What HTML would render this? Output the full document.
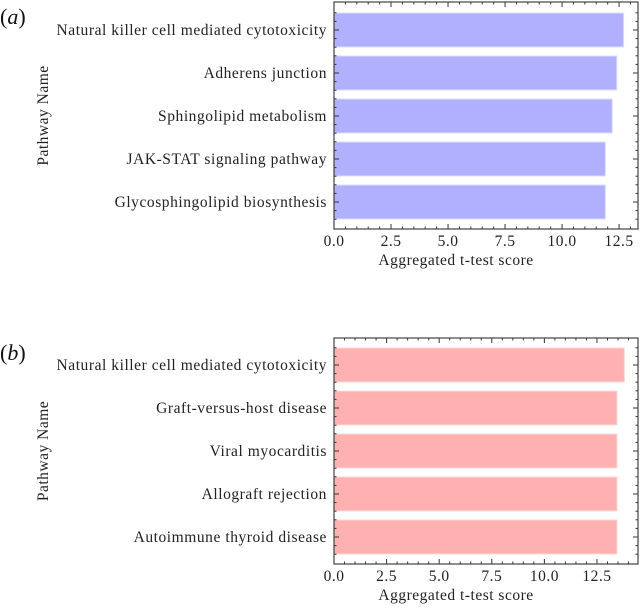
<!DOCTYPE html>
<html><head><meta charset="utf-8"><style>
body{margin:0;background:#fff;width:640px;height:605px;overflow:hidden}
svg, svg text{font-family:'Liberation Serif','Times New Roman',Times,'DejaVu Serif',serif}
</style></head><body>
<svg id="s" width="640" height="605" xmlns="http://www.w3.org/2000/svg"></svg>
<script>
const catsA=["Natural killer cell mediated cytotoxicity","Adherens junction","Sphingolipid metabolism","JAK-STAT signaling pathway","Glycosphingolipid biosynthesis"];
const valsA=[12.7,12.4,12.2,11.9,11.9];
const catsB=["Natural killer cell mediated cytotoxicity","Graft-versus-host disease","Viral myocarditis","Allograft rejection","Autoimmune thyroid disease"];
const valsB=[13.8,13.45,13.45,13.45,13.45];
const xTicksA=[0,2.5,5,7.5,10,12.5];
const xTicksB=[0,2.5,5,7.5,10,12.5];
const NS="http://www.w3.org/2000/svg";
const svg=document.getElementById('s');
function mk(t,a,p){const e=document.createElementNS(NS,t);for(const k in a)e.setAttribute(k,a[k]);if(t==='text')e.style.fontFamily="'Liberation Serif','Times New Roman',Times,serif";(p||svg).appendChild(e);return e;}
function panel(id,cats,vals,ticks,top,bottom,xmax,fill,edge,label,c0){
  const g=mk('g',{});
  
  
  const L=334,R=638;
  const xs=v=>L+v/xmax*(R-L);
  const n=cats.length, step=43;
  const ys=i=>c0+i*step;
  cats.forEach((c,i)=>{
    const r=mk('rect',{x:xs(0),y:ys(i)-17,width:xs(vals[i])-xs(0),height:34,fill:fill,stroke:edge,'stroke-width':1},g);
    
    
    const t=mk('text',{x:327,y:ys(i)+5,'text-anchor':'end','font-size':15.5,'letter-spacing':0.55,fill:'#222'},g);
    t.textContent=c;
    
    
    mk('line',{x1:L,x2:L+5,y1:ys(i),y2:ys(i),stroke:'#333'},g);
    mk('line',{x1:R,x2:R-5,y1:ys(i),y2:ys(i),stroke:'#333'},g);
  });
  for(let k=-2;k<=(n-1)*5+2;k++){ if(k%5===0)continue; const y=c0+k*step/5; if(y<=top||y>=bottom)continue;
    mk('line',{x1:L,x2:L+2.5,y1:y,y2:y,stroke:'#333'},g);mk('line',{x1:R,x2:R-2.5,y1:y,y2:y,stroke:'#333'},g);}
  for(let v=0;v<=xmax;v+=0.5){const x=xs(v);const major=Math.abs(v/2.5-Math.round(v/2.5))<1e-6;const len=major?5:2.5;
    mk('line',{x1:x,x2:x,y1:bottom,y2:bottom-len,stroke:'#333'},g);mk('line',{x1:x,x2:x,y1:top,y2:top+len,stroke:'#333'},g);}
  ticks.forEach(v=>{const t=mk('text',{x:xs(v),y:bottom+17,'text-anchor':'middle','font-size':15.5,'letter-spacing':0.5,fill:'#222'},g);t.textContent=v.toFixed(1);
    });
  const fr=mk('rect',{x:L,y:top,width:R-L,height:bottom-top,fill:'none',stroke:'#444','stroke-width':1.2},g);
  
  const xt=mk('text',{x:(L+R)/2-30,y:bottom+36,'text-anchor':'middle','font-size':15.5,'letter-spacing':0.5,fill:'#222'},g);xt.textContent='Aggregated t-test score';
  
  const cy=(top+bottom)/2;
  const yt=mk('text',{x:48,y:cy,'text-anchor':'middle','font-size':15.5,'letter-spacing':0.5,fill:'#222',transform:'rotate(-90 48 '+cy+')'},g);yt.textContent='Pathway Name';
  
  const pl=mk('text',{x:0,y:top+22,'font-size':22,fill:'#111'},g);
  pl.innerHTML='(<tspan font-style="italic">'+label+'</tspan>)';
  
}
panel('a',catsA,valsA,xTicksA,2,229,13.33,'#b0b0ff','#dcdcff','a',30);
panel('b',catsB,valsB,xTicksB,338,564,14.45,'#ffb0b0','#ffd8d8','b',365);
</script>
</body></html>
